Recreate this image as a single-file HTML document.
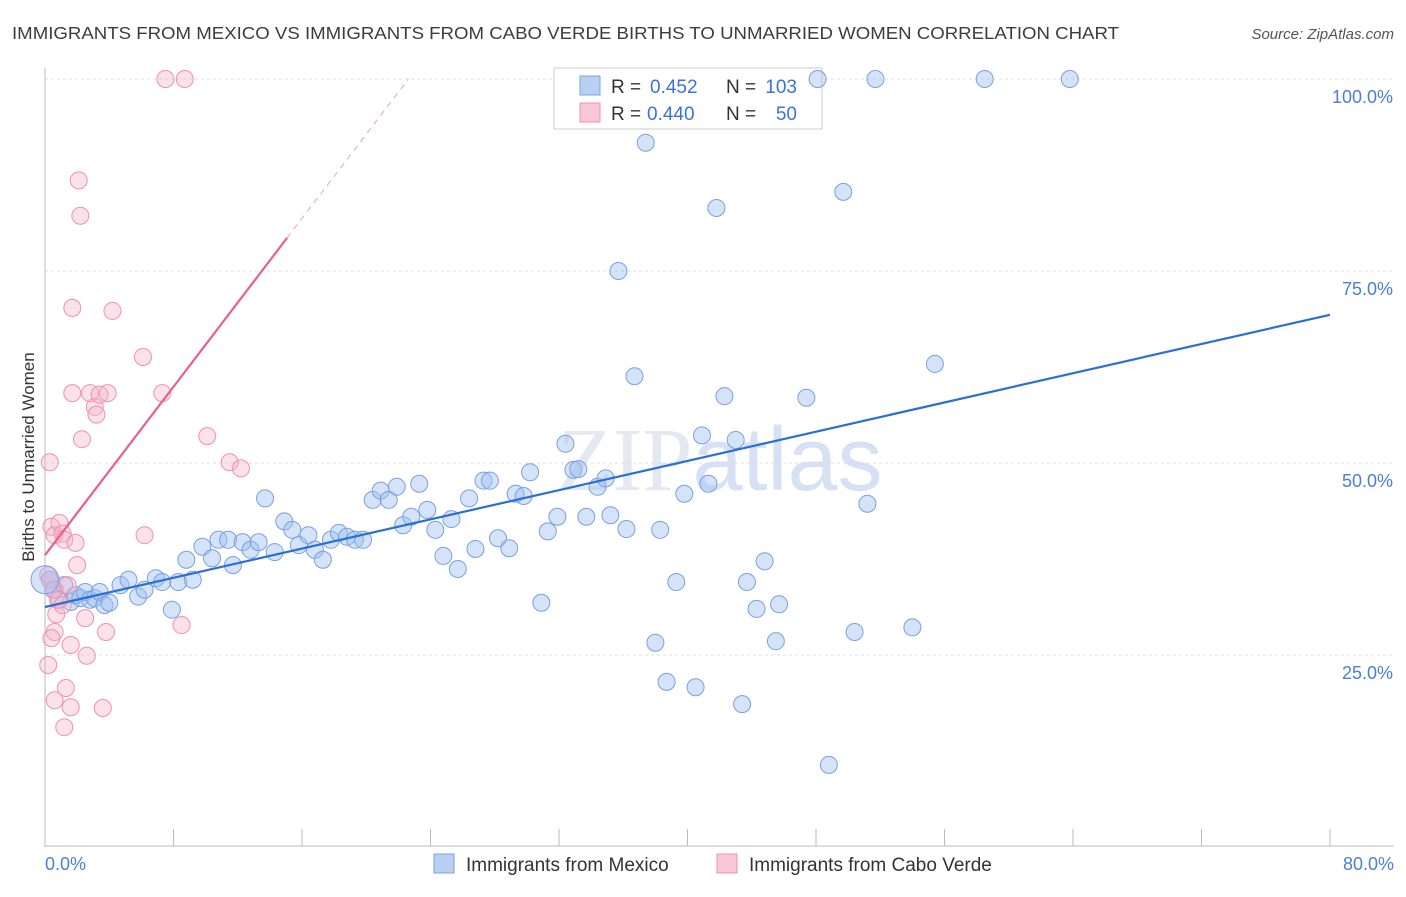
<!DOCTYPE html>
<html><head><meta charset="utf-8"><style>
body{margin:0;background:#fff;font-family:"Liberation Sans",sans-serif}
</style></head><body>
<svg id="chart" width="1406" height="892" xmlns="http://www.w3.org/2000/svg" font-family="Liberation Sans, sans-serif">
<text x="12" y="39" font-size="17.5" fill="#3c3c3c" textLength="1107" lengthAdjust="spacingAndGlyphs">IMMIGRANTS FROM MEXICO VS IMMIGRANTS FROM CABO VERDE BIRTHS TO UNMARRIED WOMEN CORRELATION CHART</text>
<text x="1394" y="39" font-size="15" fill="#555" font-style="italic" text-anchor="end">Source: ZipAtlas.com</text>
<text transform="translate(34,457) rotate(-90)" font-size="17" fill="#333" text-anchor="middle">Births to Unmarried Women</text>
<text x="720" y="490" font-size="90" fill="#e4e8f0" text-anchor="middle" font-family="Liberation Serif, serif">ZIP<tspan fill="#d6e2f4" font-family="Liberation Sans, sans-serif">atlas</tspan></text>
<g id="grid"></g><g id="axes"></g>
<g>
<rect x="554" y="68" width="268" height="61" fill="#fff" stroke="#ccc"/>
<rect x="580" y="76" width="20" height="19" fill="#b9d0f2" stroke="#7aa0e0"/>
<text x="611" y="93" font-size="19" fill="#333">R =</text>
<text x="650" y="93" font-size="19" fill="#3a73d6">0.452</text>
<text x="726" y="93" font-size="19" fill="#333">N =</text>
<text x="797" y="93" font-size="19" fill="#3a73d6" text-anchor="end">103</text>
<rect x="580" y="103" width="20" height="19" fill="#f8c6d6" stroke="#f090b0"/>
<text x="611" y="120" font-size="19" fill="#333">R =</text>
<text x="647" y="120" font-size="19" fill="#3a73d6">0.440</text>
<text x="726" y="120" font-size="19" fill="#333">N =</text>
<text x="797" y="120" font-size="19" fill="#3a73d6" text-anchor="end">50</text>
</g>
<g id="pts"></g><g id="lines"></g>
<g>
<rect x="434" y="854" width="20" height="19" fill="#b9d0f2" stroke="#7aa0e0"/>
<text x="466" y="871" font-size="19" fill="#333">Immigrants from Mexico</text>
<rect x="717" y="854" width="20" height="19" fill="#f8c6d6" stroke="#f090b0"/>
<text x="749" y="871" font-size="19" fill="#333">Immigrants from Cabo Verde</text>
</g>
</svg>
<script>
const yTicks=[25,50,75,100];
const yTickLabels=["25.0%","50.0%","75.0%","100.0%"];
const xTicks=[0,8,16,24,32,40,48,56,64,72,80];
const mexicoX=[0.3,0.6,0.9,1.2,1.6,1.9,2.2,2.5,2.8,3.1,3.4,3.7,4.0,4.7,5.2,5.8,6.2,6.9,7.3,7.9,8.3,8.8,9.2,9.8,10.4,10.8,11.4,11.7,12.3,12.8,13.3,13.7,14.3,14.9,15.4,15.8,16.4,16.8,17.3,17.8,18.3,18.8,19.3,19.8,20.4,20.9,21.4,21.9,22.3,22.8,23.3,23.8,24.3,24.8,25.3,25.7,26.4,26.8,27.3,27.7,28.2,28.9,29.3,29.8,30.2,30.9,31.3,31.9,32.4,32.9,33.2,33.7,34.4,34.9,35.2,35.7,36.2,36.7,37.4,38.0,38.3,38.7,39.3,39.8,40.5,40.9,41.3,41.8,42.3,43.0,43.4,43.7,44.3,44.8,45.5,45.7,47.4,48.1,48.8,49.7,50.4,51.2,51.7,54.0,55.4,58.5,63.8];
const mexicoY=[34.8,33.5,32.2,34.1,31.9,32.8,32.4,33.2,32.2,32.4,33.2,31.5,31.8,34.1,34.8,32.6,33.5,35.0,34.5,30.9,34.5,37.4,34.8,39.1,37.6,40.0,40.0,36.7,39.7,38.7,39.7,45.4,38.4,42.4,41.3,39.3,40.6,38.7,37.4,40.0,40.9,40.4,40.0,40.0,45.2,46.4,45.2,46.9,41.9,43.0,47.3,43.9,41.3,37.9,42.7,36.2,45.4,38.8,47.7,47.7,40.2,38.9,46.0,45.7,48.8,31.8,41.1,43.0,52.5,49.1,49.2,43.0,46.9,48.0,43.2,75.0,41.4,61.3,91.7,26.6,41.3,21.5,34.5,46.0,20.8,53.6,47.3,83.2,58.7,53.0,18.6,34.5,31.0,37.2,26.8,31.6,58.5,100,10.7,85.3,28.0,44.7,100,28.6,62.9,100,100];
const caboX=[0.2,0.3,0.4,0.5,0.6,0.6,0.3,0.4,0.2,0.6,0.7,0.8,0.9,1.1,1.1,1.2,1.2,1.3,1.4,1.6,1.6,1.7,1.7,1.9,2.0,2.1,2.2,2.3,2.5,2.6,2.8,3.1,3.2,3.4,3.6,3.8,3.9,4.2,6.1,6.2,7.3,7.5,8.5,8.7,10.1,11.5,12.2];
const caboY=[35.4,34.8,41.7,33.5,40.6,28.0,50.1,27.2,23.7,19.1,30.3,32.2,42.2,40.8,31.5,40.0,15.6,20.7,34.1,18.2,26.3,59.1,70.2,39.6,36.7,86.8,82.2,53.1,29.8,24.9,59.1,57.3,56.3,58.9,18.1,28.0,59.1,69.8,63.8,40.6,59.1,100,28.9,100,53.5,50.1,49.3];
const mexicoFit=[31.25,69.3];
const caboFit=[38.0,79.3];
const sx=v=>45+v*(1285/80);
const sy=v=>847-v*7.68;
const NS="http://www.w3.org/2000/svg";
function mk(tag,attrs,parent){const e=document.createElementNS(NS,tag);for(const k in attrs)e.setAttribute(k,attrs[k]);document.getElementById(parent).appendChild(e);return e;}
yTicks.forEach((t,i)=>{
 const l=mk('line',{x1:45,x2:1394,y1:sy(t),y2:sy(t),stroke:'#ddd','stroke-dasharray':'3,3'},'grid');
 
 
 const tx=mk('text',{x:1393,y:sy(t)+24,'font-size':18,fill:'#4a7fd6','text-anchor':'end'},'axes');
 tx.textContent=yTickLabels[i];
 
 
});
const ax=mk('line',{x1:45,x2:45,y1:68,y2:847,stroke:'#bbb'},'axes');


const bx=mk('line',{x1:45,x2:1394,y1:846,y2:846,stroke:'#bbb'},'axes');


xTicks.forEach(t=>{
 const l=mk('line',{x1:sx(t),x2:sx(t),y1:829,y2:846,stroke:'#bbb'},'axes');
 
 
});
[[0,"0.0%","start",45],[80,"80.0%","end",1394]].forEach(a=>{
 const tx=mk('text',{x:a[3],y:870,'font-size':18,fill:'#4a7fd6','text-anchor':a[2]},'axes');
 tx.textContent=a[1];
 
 
});
mexicoX.forEach((x,i)=>{
 const c=mk('circle',{cx:sx(x),cy:sy(mexicoY[i]),r:8.5,fill:'rgba(160,192,240,0.45)',stroke:'#7aa0e0','stroke-width':1},'pts');
 
 
});
caboX.forEach((x,i)=>{
 const c=mk('circle',{cx:sx(x),cy:sy(caboY[i]),r:8.5,fill:'rgba(246,180,202,0.4)',stroke:'#f090b0','stroke-width':1},'pts');
 
 
});
const big=mk('circle',{cx:sx(0),cy:sy(34.8),r:14,fill:'rgba(160,192,240,0.45)',stroke:'#7aa0e0'},'pts');


const ml=mk('line',{x1:sx(0),y1:sy(mexicoFit[0]),x2:sx(80),y2:sy(mexicoFit[1]),stroke:'#2a6fd6','stroke-width':2.2},'lines');


const slope=(caboFit[1]-caboFit[0])/15.07;
const cl=mk('line',{x1:sx(0),y1:sy(caboFit[0]),x2:sx(15.07),y2:sy(caboFit[1]),stroke:'#e8608a','stroke-width':2.2},'lines');


const xe=(100-caboFit[0])/slope;
const cd=mk('line',{x1:sx(15.07),y1:sy(caboFit[1]),x2:sx(xe),y2:sy(100),stroke:'#f0a0b8','stroke-width':1,'stroke-dasharray':'6,5'},'lines');


</script>
</body></html>
